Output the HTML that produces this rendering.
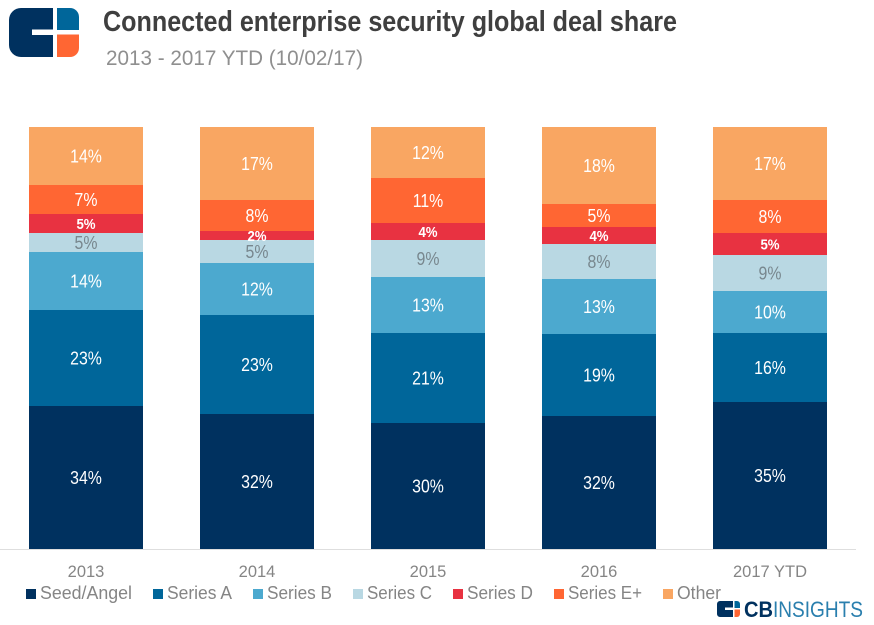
<!DOCTYPE html>
<html lang="en">
<head>
<meta charset="utf-8">
<title>Connected enterprise security global deal share</title>
<style>
html,body{margin:0;padding:0;background:#fff;width:874px;height:625px;overflow:hidden}
svg{display:block;font-family:"Liberation Sans",sans-serif}
</style>
</head>
<body>
<svg id="chart" xmlns="http://www.w3.org/2000/svg" width="874" height="625" viewBox="0 0 874 625">
  <g>
    <path d="M21 8H53V29.5H32V35H53V57H21A12 12 0 0 1 9 45V20A12 12 0 0 1 21 8Z" fill="#00315f"/>
    <path d="M57 8H70A9 9 0 0 1 79 17V30H57Z" fill="#00669a"/>
    <path d="M57 34.5H79V48A9 9 0 0 1 70 57H57Z" fill="#ff6633"/>
  </g>
  <text x="103" y="31" font-size="29" font-weight="700" fill="#3f3f3f" textLength="574" lengthAdjust="spacingAndGlyphs">Connected enterprise security global deal share</text>
  <text x="106" y="65" font-size="21" fill="#8f8f8f" textLength="257" lengthAdjust="spacingAndGlyphs">2013 - 2017 YTD (10/02/17)</text>
  <g id="bars"></g>
  <line x1="0" x2="856" y1="549.5" y2="549.5" stroke="#dedede" stroke-width="1"/>
  <g id="xticks"></g>
  <g font-size="18" fill="#858585">
    <g><rect x="26" y="589" width="10" height="10" fill="#00315f"/><text x="40" y="599" textLength="92" lengthAdjust="spacingAndGlyphs">Seed/Angel</text></g>
    <g><rect x="153" y="589" width="10" height="10" fill="#00669a"/><text x="167" y="599" textLength="65" lengthAdjust="spacingAndGlyphs">Series A</text></g>
    <g><rect x="253" y="589" width="10" height="10" fill="#4ca9cf"/><text x="267" y="599" textLength="65" lengthAdjust="spacingAndGlyphs">Series B</text></g>
    <g><rect x="353" y="589" width="10" height="10" fill="#b9d8e3"/><text x="367" y="599" textLength="65" lengthAdjust="spacingAndGlyphs">Series C</text></g>
    <g><rect x="453" y="589" width="10" height="10" fill="#e83241"/><text x="467" y="599" textLength="66" lengthAdjust="spacingAndGlyphs">Series D</text></g>
    <g><rect x="554" y="589" width="10" height="10" fill="#ff6633"/><text x="568" y="599" textLength="74" lengthAdjust="spacingAndGlyphs">Series E+</text></g>
    <g><rect x="663" y="589" width="10" height="10" fill="#f9a662"/><text x="677" y="599" textLength="44" lengthAdjust="spacingAndGlyphs">Other</text></g>
  </g>
  <g>
    <path d="M720 601H733V607.5H725V610H733V617H720A3 3 0 0 1 717 614V604A3 3 0 0 1 720 601Z" fill="#00315f"/>
    <path d="M734.5 601H737A3 3 0 0 1 740 604V608H734.5Z" fill="#00669a"/>
    <path d="M734.5 609.5H740V614A3 3 0 0 1 737 617H734.5Z" fill="#ff6633"/>
    <text x="744" y="617" font-size="22" font-weight="700" fill="#00315f" textLength="29" lengthAdjust="spacingAndGlyphs">CB</text>
    <text x="773" y="617" font-size="22" fill="#2a7fae" textLength="90" lengthAdjust="spacingAndGlyphs">INSIGHTS</text>
  </g>
</svg>
<script>
const categories = ["2013", "2014", "2015", "2016", "2017 YTD"];
const seedAngel = [33.9, 32.0, 29.9, 31.6, 34.8];
const seriesA   = [22.7, 23.4, 21.3, 19.4, 16.4];
const seriesB   = [13.7, 12.4, 13.3, 13.0, 10.0];
const seriesC   = [4.5, 5.4, 8.8, 8.3, 8.5];
const seriesD   = [4.5, 2.1, 4.0, 4.0, 5.2];
const seriesE   = [6.9, 7.5, 10.7, 5.4, 7.8];
const other     = [13.8, 17.2, 12.0, 18.3, 17.3];
const seriesNames = ["Seed/Angel", "Series A", "Series B", "Series C", "Series D", "Series E+", "Other"];
const seriesValues = [seedAngel, seriesA, seriesB, seriesC, seriesD, seriesE, other];
const seriesColors = ["#00315f", "#00669a", "#4ca9cf", "#b9d8e3", "#e83241", "#ff6633", "#f9a662"];

const NS = "http://www.w3.org/2000/svg";
const plotTop = 127, plotBottom = 549, barWidth = 114, firstBarLeft = 29, barStep = 171;
const yScale = function (v) { return Math.round(plotBottom - (v / 100) * (plotBottom - plotTop)); };
const xScale = function (i) { return firstBarLeft + i * barStep; };
const barsGroup = document.getElementById("bars");
const ticksGroup = document.getElementById("xticks");

categories.forEach(function (cat, i) {
  let cum = 0;
  seriesValues.forEach(function (vals, s) {
    const y0 = yScale(cum);
    const y1 = yScale(cum + vals[i]);
    cum += vals[i];
    const rect = document.createElementNS(NS, "rect");
    rect.setAttribute("x", xScale(i));
    rect.setAttribute("y", y1);
    rect.setAttribute("width", barWidth);
    rect.setAttribute("height", y0 - y1);
    rect.setAttribute("fill", seriesColors[s]);
    
    
    barsGroup.appendChild(rect);
  });
});

categories.forEach(function (cat, i) {
  let cum = 0;
  seriesValues.forEach(function (vals, s) {
    const y0 = yScale(cum);
    const y1 = yScale(cum + vals[i]);
    cum += vals[i];
    const label = document.createElementNS(NS, "text");
    label.textContent = Math.round(vals[i]) + "%";
    label.setAttribute("x", xScale(i) + barWidth / 2);
    const isD = s === 4;
    const size = isD ? 15 : 18;
    label.setAttribute("y", (y0 + y1) / 2 + size * 0.36);
    label.setAttribute("text-anchor", "middle");
    label.setAttribute("font-size", size);
    if (isD) label.setAttribute("font-weight", "700");
    label.setAttribute("fill", s === 3 ? "#78878e" : "#ffffff");
    
    
    barsGroup.appendChild(label);
    label.setAttribute("textLength", (label.getComputedTextLength() * 0.88).toFixed(1));
    label.setAttribute("lengthAdjust", "spacingAndGlyphs");
  });
  const tick = document.createElementNS(NS, "text");
  tick.textContent = cat;
  tick.setAttribute("x", xScale(i) + barWidth / 2);
  tick.setAttribute("y", 577);
  tick.setAttribute("text-anchor", "middle");
  tick.setAttribute("font-size", 16.5);
  tick.setAttribute("fill", "#858585");
  
  
  ticksGroup.appendChild(tick);
});
</script>
</body>
</html>
